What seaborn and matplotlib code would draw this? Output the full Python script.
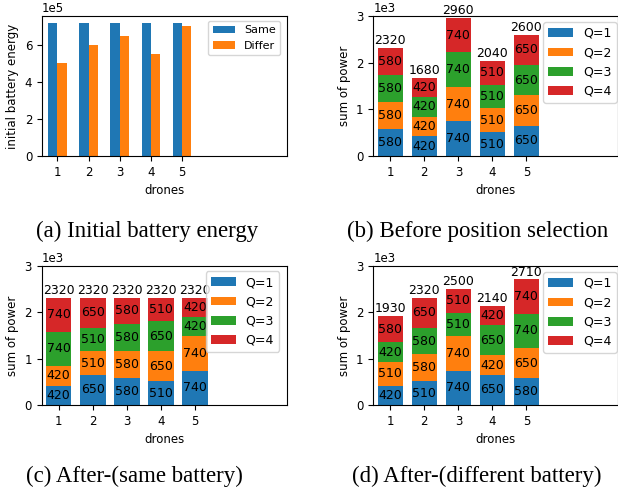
import numpy as np
import pandas as pd
import seaborn as sns
import matplotlib.pyplot as plt

DRONES = [1, 2, 3, 4, 5]
Q_LABELS = ['Q=1', 'Q=2', 'Q=3', 'Q=4']

ENERGY_SAME = [7.2e5, 7.2e5, 7.2e5, 7.2e5, 7.2e5]
ENERGY_DIFFER = [5.0e5, 6.0e5, 6.5e5, 5.5e5, 7.0e5]

# power per drone, one row per Q level (Q=1 .. Q=4)
BEFORE_Q = [
    [580, 420, 740, 510, 650],
    [580, 420, 740, 510, 650],
    [580, 420, 740, 510, 650],
    [580, 420, 740, 510, 650],
]
AFTER_SAME_Q = [
    [420, 650, 580, 510, 740],
    [420, 510, 580, 650, 740],
    [740, 510, 580, 650, 420],
    [740, 650, 580, 510, 420],
]
AFTER_DIFF_Q = [
    [420, 510, 740, 650, 580],
    [510, 580, 740, 420, 650],
    [420, 580, 510, 650, 740],
    [580, 650, 510, 420, 740],
]

CAPTIONS = ['(a) Initial battery energy', '(b) Before position selection',
            '(c) After-(same battery)', '(d) After-(different battery)']

W, H = 618, 493
FS = 8.5
LABEL_FS = 9
LEGEND_FS = 9
COLORS = sns.color_palette('tab10', 4)


def px_axes(fig, left, top, right, bottom):
    return fig.add_axes([left / W, 1 - bottom / H, (right - left) / W, (bottom - top) / H])


def plot_energy(ax):
    df = pd.DataFrame({
        'drone': DRONES * 2,
        'energy': ENERGY_SAME + ENERGY_DIFFER,
        'type': ['Same'] * 5 + ['Differ'] * 5,
    })
    sns.barplot(data=df, x='drone', y='energy', hue='type', native_scale=True,
                width=0.6, palette=COLORS[:2], saturation=1, errorbar=None, ax=ax)
    ax.set_xlim(0.51, 8.36)
    ax.set_ylim(0, 7.56e5)
    ax.set_xticks(DRONES)
    ax.set_yticks([0, 2e5, 4e5, 6e5])
    ax.ticklabel_format(axis='y', style='sci', scilimits=(5, 5))
    ax.set_xlabel('drones', fontsize=FS)
    ax.set_ylabel('initial battery energy', fontsize=FS)
    ax.tick_params(labelsize=FS)
    ax.yaxis.get_offset_text().set_fontsize(FS)
    ax.legend(loc='upper right', bbox_to_anchor=(1 - 7 / 245, 1 - 5 / 140),
              borderaxespad=0, fontsize=8)


def plot_stacked(ax, q_rows, legend_anchor):
    bottom = np.zeros(len(DRONES))
    for label, vals, color in zip(Q_LABELS, q_rows, COLORS):
        df = pd.DataFrame({'drone': DRONES, 'power': vals})
        sns.barplot(data=df, x='drone', y='power', native_scale=True, width=0.75,
                    color=color, saturation=1, errorbar=None, bottom=bottom.copy(),
                    label=label, ax=ax)
        ax.bar_label(ax.containers[-1], labels=[str(v) for v in vals],
                     label_type='center', fontsize=LABEL_FS)
        bottom += np.array(vals)
    ax.bar_label(ax.containers[-1], labels=[str(int(t)) for t in bottom],
                 fontsize=LABEL_FS, padding=0.5)
    ax.set_xlim(0.5, 7.7)
    ax.set_ylim(0, 3000)
    ax.set_xticks(DRONES)
    ax.set_yticks([0, 1000, 2000, 3000])
    ax.ticklabel_format(axis='y', style='sci', scilimits=(3, 3))
    ax.set_xlabel('drones', fontsize=FS)
    ax.set_ylabel('sum of power', fontsize=FS)
    ax.tick_params(labelsize=FS)
    ax.yaxis.get_offset_text().set_fontsize(FS)
    ax.legend(loc='upper right', bbox_to_anchor=legend_anchor,
              borderaxespad=0, fontsize=LEGEND_FS)


def main():
    fig = plt.figure(figsize=(W / 100, H / 100), dpi=100)

    ax_a = px_axes(fig, 42, 16, 287, 156)
    ax_b = px_axes(fig, 373.3, 16, 618.3, 156)
    ax_c = px_axes(fig, 41.7, 266, 286.7, 405)
    ax_d = px_axes(fig, 373.3, 266, 618.3, 405)

    plot_energy(ax_a)
    plot_stacked(ax_b, BEFORE_Q, (1 - 1.5 / 245, 1 - 6 / 140))
    plot_stacked(ax_c, AFTER_SAME_Q, (1 - 7.7 / 245, 1 - 5 / 139))
    plot_stacked(ax_d, AFTER_DIFF_Q, (1 - 1.5 / 245, 1 - 6 / 139))

    cap_pos = [(147.5, 237), (478, 237), (134, 482), (477, 482)]
    for text, (x, y) in zip(CAPTIONS, cap_pos):
        fig.text(x / W, 1 - y / H, text, ha='center', va='baseline',
                 family='Liberation Serif', fontsize=16.5)

    fig.savefig('out.png', dpi=100)
    plt.close(fig)


if __name__ == '__main__':
    main()
